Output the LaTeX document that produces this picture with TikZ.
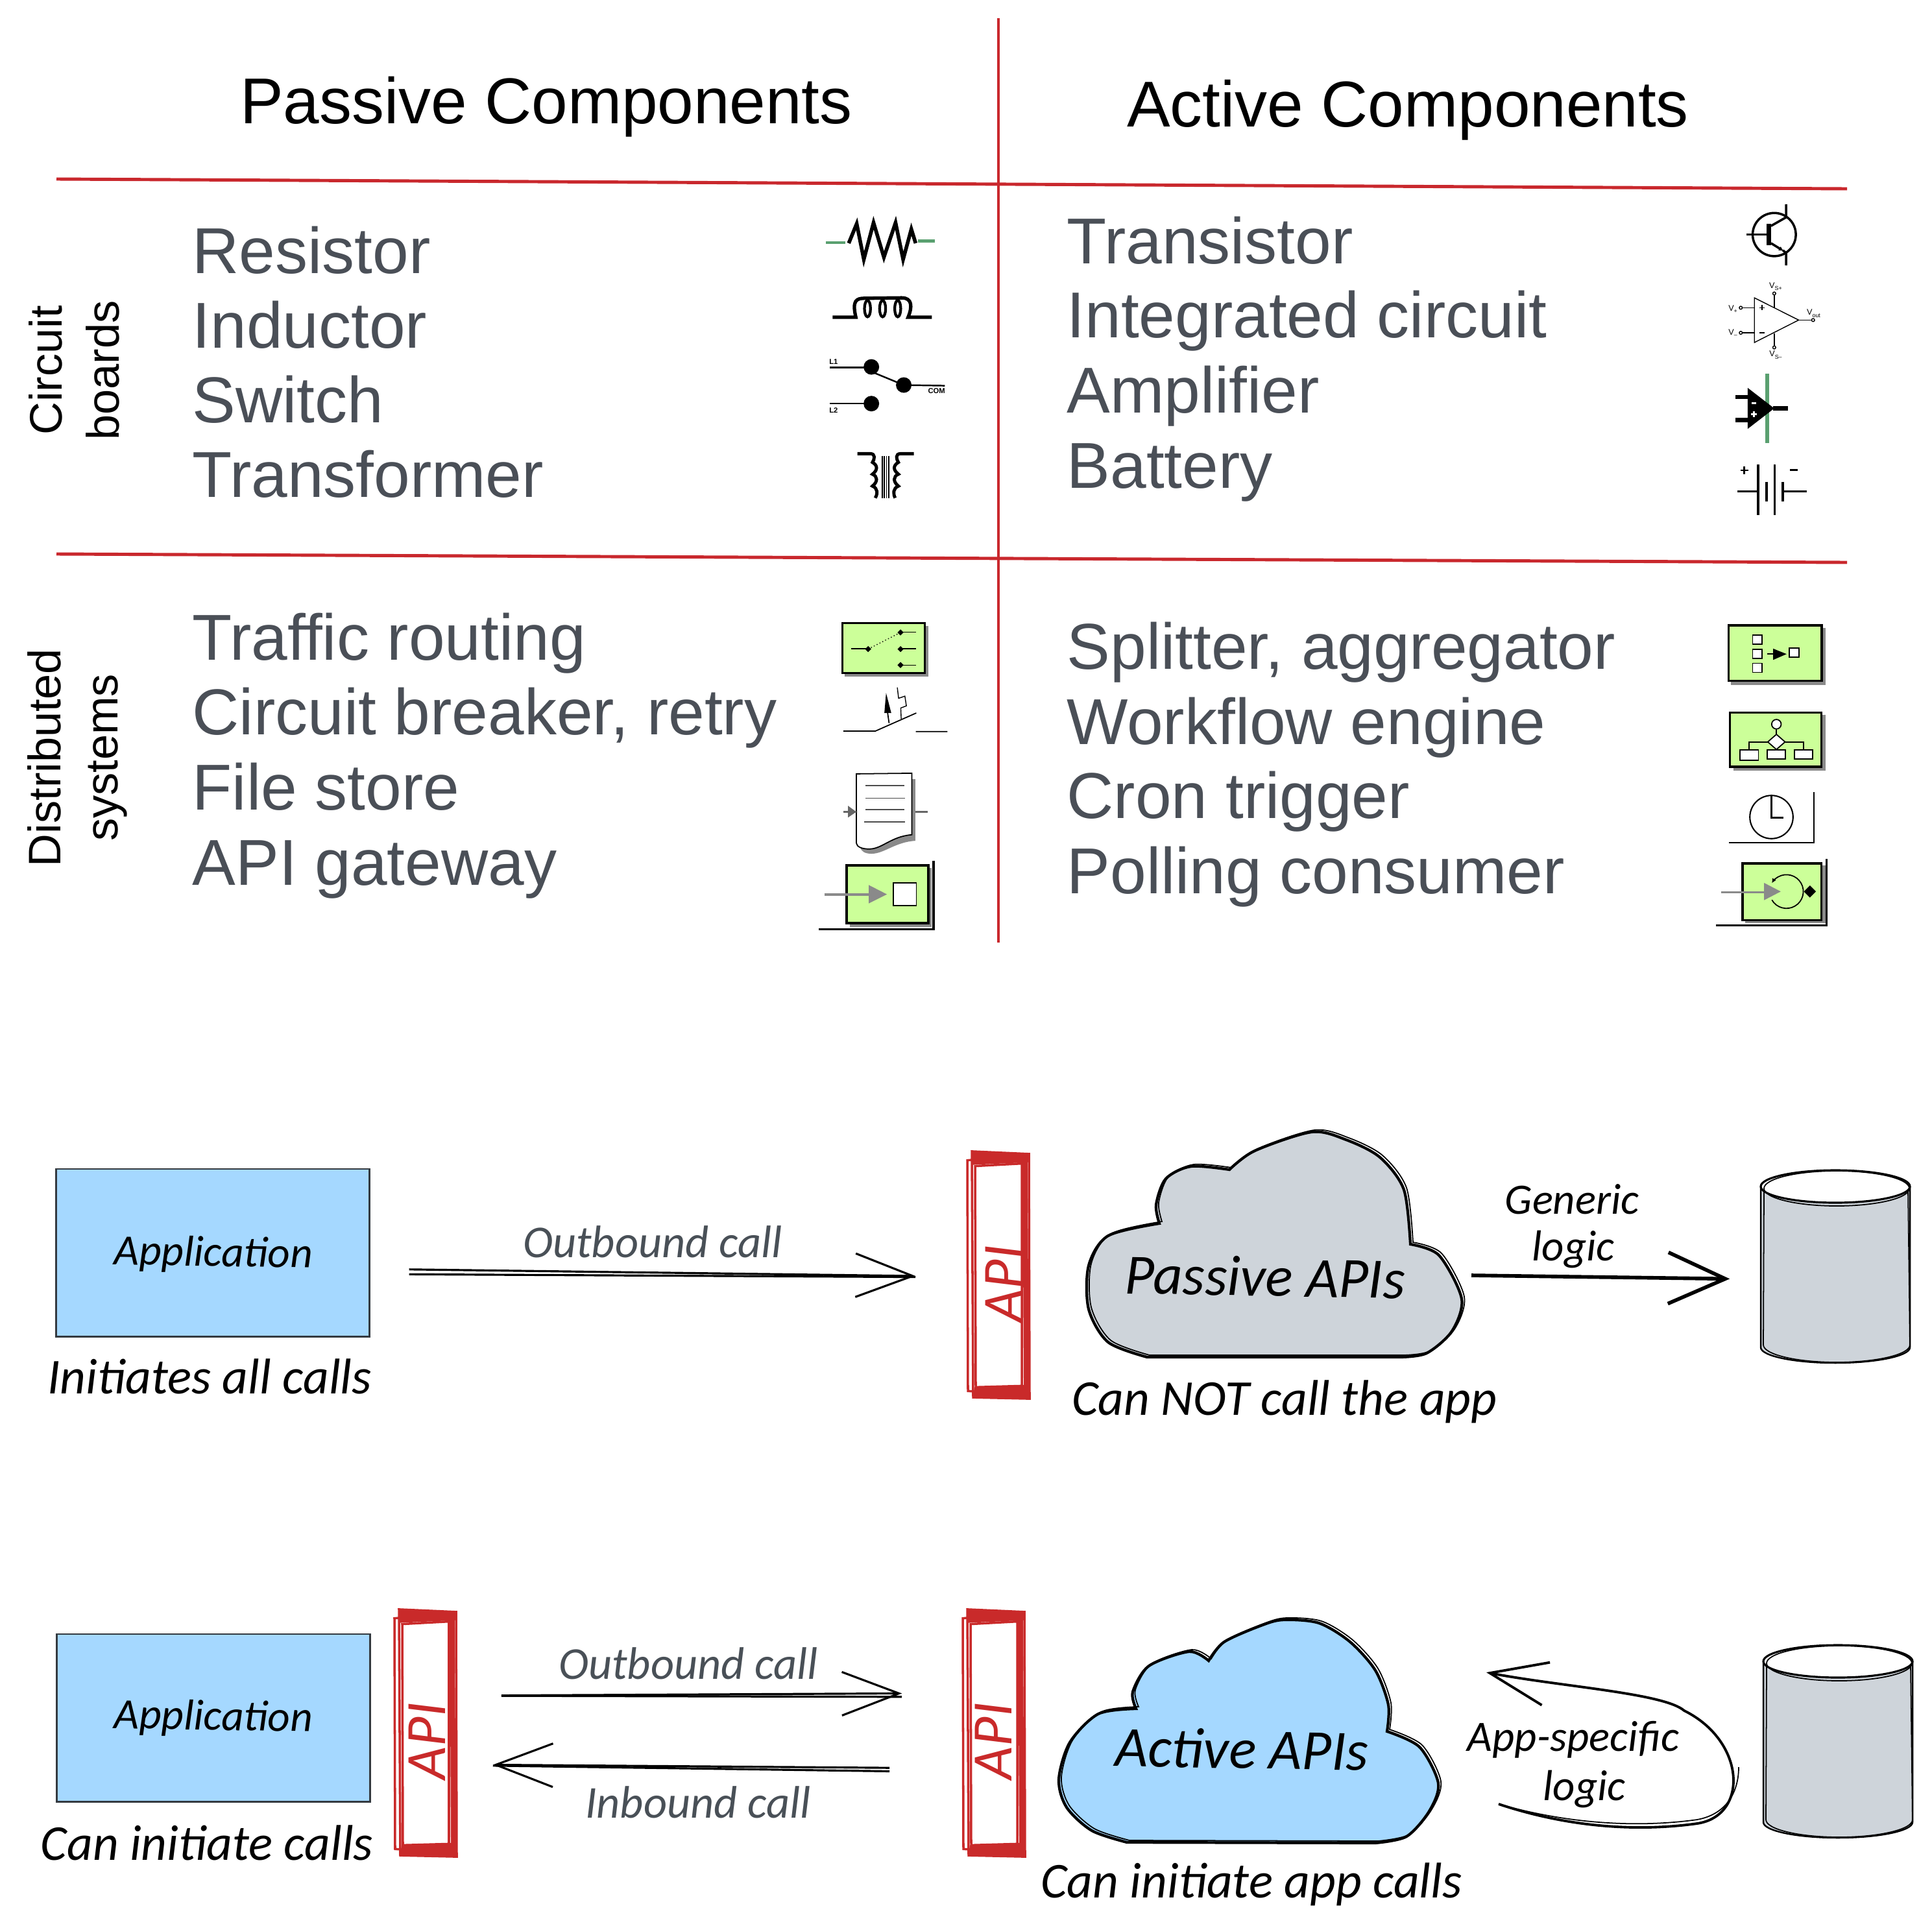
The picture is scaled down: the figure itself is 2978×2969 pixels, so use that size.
\documentclass[tikz,border=0pt]{standalone}
\usepackage{fontspec}
\usepackage{tikz}
\usetikzlibrary{positioning,arrows.meta,calc}
\setmainfont{Liberation Sans}
\newfontfamily\handfont{Carlito}

\definecolor{rulered}{HTML}{C9282D}
\definecolor{itemgrey}{HTML}{4A4F57}
\definecolor{appblue}{HTML}{A5D8FF}
\definecolor{boxedge}{HTML}{343A40}
\definecolor{cloudgrey}{HTML}{CED4DA}
\definecolor{calltext}{HTML}{495057}
\definecolor{apired}{HTML}{C92A2A}
\definecolor{eipgreen}{HTML}{CCFF99}
\definecolor{eipshadow}{HTML}{8A8A8A}
\definecolor{wiregreen}{HTML}{5AA070}

\tikzset{
  rule/.style={draw=rulered,line width=1.4pt},
  title/.style={font=\fontsize{28.4}{30}\selectfont,text=black,inner sep=0pt},
  itemtext/.style={anchor=base west,font=\fontsize{28.45}{30}\selectfont,text=itemgrey,inner sep=0pt},
  rowhead/.style={rotate=90,align=center,font=\fontsize{20}{25}\selectfont,text=black,inner sep=0pt},
  icontiny/.style={font=\fontsize{3.2}{3.2}\selectfont\bfseries,inner sep=0pt},
  iconlabel/.style={font=\fontsize{3.6}{3.6}\selectfont,inner sep=0pt},
  eipbox/.style={draw=black,fill=eipgreen},
  eipshade/.style={fill=eipshadow},
  hand/.style={font=\handfont\itshape\fontsize{19}{19}\selectfont,text=black,inner sep=0pt},
  caption/.style={font=\handfont\itshape\fontsize{22}{22}\selectfont,text=black,inner sep=0pt},
  handbig/.style={font=\handfont\itshape\fontsize{25}{25}\selectfont,text=black,inner sep=0pt},
  callhand/.style={font=\handfont\itshape\fontsize{20}{20}\selectfont,text=calltext,inner sep=0pt},
  apilabel/.style={rotate=90,font=\handfont\itshape\fontsize{25}{25}\selectfont,text=apired,inner sep=0pt},
  appbox/.style={draw=boxedge,fill=appblue,line width=.8pt,minimum width=4.82cm,minimum height=2.58cm,inner sep=0pt},
  apibar/.style={minimum width=.96cm,minimum height=3.8cm,inner sep=0pt},
  storeslot/.style={minimum width=2.3cm,minimum height=2.96cm,inner sep=0pt},
  callarrow/.style={line width=.9pt,-{Straight Barb[length=.88cm,width=.67cm]}},
  callline/.style={line width=.9pt},
  heavyarrow/.style={line width=1.6pt,-{Straight Barb[length=.88cm,width=.79cm]}},
  cloudline/.style={draw=black,line width=1.2pt},
  cloudghost/.style={draw=black,line width=.5pt,xshift=.04cm,yshift=.03cm},
}

\newcommand\apistrokes[1]{
  \begin{scope}[shift={(#1)},yscale=.985]
    \draw[apired,line width=1pt] (-47,-179) -- (42,-188) -- (46,189) -- (-46,182) -- cycle;
    \draw[apired,line width=1pt] (-40,-193) -- (48,-189) -- (49,194) -- (-38,192) -- cycle;
    \draw[apired,line width=1pt] (-35,-170) -- (37,-174) -- (37,174) -- (-34,176) -- cycle;
    \fill[apired] (-40,-193) -- (48,-189) -- (48,-176) -- (-38,-172) -- cycle;
    \fill[apired] (-36,176) -- (48,172) -- (49,194) -- (-38,192) -- cycle;
    \draw[apired,line width=2.2pt] (42,-188) -- (44,190);
  \end{scope}
}
\newcommand\storedrum[1]{
  \begin{scope}[shift={(#1)}]
    \fill[cloudgrey] (-115,-124) -- (-115,124) arc (180:0:115 and 24) -- (115,-124) -- cycle;
    \draw[line width=.7pt] (-115,-124) -- (-115,124) arc (180:0:115 and 24) -- (115,-124);
    \draw[line width=.5pt] (-110,-118) -- (-111,120) arc (180:0:113 and 27) -- (112,-118);
    \draw[fill=white,line width=.9pt] (0,-124) ellipse (115 and 25);
    \draw[line width=.5pt] (2,-121) ellipse (112 and 27);
  \end{scope}
}
\newcommand\cloudonepath{
  plot[smooth,tension=.5] coordinates {(1787,1886) (1782,1857) (1797,1817) (1836,1798) (1895,1803)}
  -- plot[smooth,tension=.5] coordinates {(1895,1803) (1934,1774) (2022,1745) (2075,1757) (2127,1784) (2164,1834) (2174,1918)}
  -- plot[smooth,tension=.5] coordinates {(2174,1918) (2218,1935) (2253,2002) (2238,2052) (2199,2086) (2159,2092)}
  -- (1768,2092)
  -- plot[smooth,tension=.5] coordinates {(1768,2092) (1708,2069) (1678,2018) (1678,1951) (1708,1905) (1787,1886)} -- cycle
}
\newcommand\cloudtwopath{
  plot[smooth,tension=.5] coordinates {(1751,2634) (1746,2608) (1771,2568) (1833,2546) (1863,2560)}
  -- plot[smooth,tension=.5] coordinates {(1863,2560) (1887,2531) (1946,2505) (1979,2497) (2033,2502) (2081,2531) (2120,2575) (2140,2628) (2138,2669)}
  -- plot[smooth,tension=.5] coordinates {(2138,2669) (2188,2693) (2217,2749) (2203,2792) (2168,2831) (2120,2841)}
  -- (1737,2840)
  -- plot[smooth,tension=.5] coordinates {(1737,2840) (1683,2822) (1644,2786) (1632,2743) (1649,2686) (1693,2642) (1751,2634)} -- cycle
}

\begin{document}
\begin{tikzpicture}[x=.01cm,y=-.01cm]
    \useasboundingbox (0,0) rectangle (2978,2969);

    \draw[rule] (1539,28) -- (1539,1453);
    \draw[rule] (87,276) -- (2847,291);
    \draw[rule] (87,854) -- (2847,867);

    \node (passivetitle) [title] at (842,165) {Passive Components};
    \node (activetitle) [title] at (2170,170) {Active Components};
    \node (circuitrow) [rowhead] at (114,571) {Circuit\\boards};
    \node (distrow) [rowhead] at (119,1168) {Distributed\\systems};

    \node (resistor) [itemtext] at (296,421) {Resistor};
    \node (inductor) [itemtext] at (296,536) {Inductor};
    \node (switch) [itemtext] at (296,651) {Switch};
    \node (transformer) [itemtext] at (296,766) {Transformer};
    \node (routing) [itemtext] at (296,1017) {Traffic routing};
    \node (breaker) [itemtext] at (296,1132) {Circuit breaker, retry};
    \node (filestore) [itemtext] at (296,1248) {File store};
    \node (gateway) [itemtext] at (296,1364) {API gateway};
    \node (transistor) [itemtext] at (1644,406) {Transistor};
    \node (integrated) [itemtext] at (1644,520) {Integrated circuit};
    \node (amplifier) [itemtext] at (1644,636) {Amplifier};
    \node (battery) [itemtext] at (1644,752) {Battery};
    \node (splitter) [itemtext] at (1644,1031) {Splitter, aggregator};
    \node (workflow) [itemtext] at (1644,1147) {Workflow engine};
    \node (cron) [itemtext] at (1644,1261) {Cron trigger};
    \node (polling) [itemtext] at (1644,1377) {Polling consumer};

    \begin{scope}[shift={(1230,320)},x=.00333cm,y=-.00333cm]
      \draw[wiregreen,line width=1.2pt] (130,163) -- (220,163);
      \draw[wiregreen,line width=1.2pt] (555,155) -- (635,155);
      \draw[line width=1.6pt,line join=miter] (235,165) -- (272,75) -- (305,240) -- (350,70) -- (398,230) -- (452,70) -- (487,240) -- (525,100) -- (545,165);
      \draw[line width=1.5pt] (160,508) -- (268,508) .. controls (250,430) and (270,420) .. (310,420) -- (480,418) .. controls (530,418) and (530,460) .. (510,508) -- (620,508);
      \foreach \cx in {322,392,462} \draw[line width=1.2pt] (\cx,468) ellipse (14 and 38);
      \draw[line width=.7pt] (148,740) -- (340,740);
      \draw[line width=.7pt] (340,760) -- (490,822) -- (680,825);
      \draw[line width=.7pt] (148,908) -- (340,908);
      \fill (340,738) circle (36) (490,822) circle (36) (340,908) circle (36);
      \node (switchlone) [icontiny] at (165,713) {L1};
      \node (switchltwo) [icontiny] at (165,938) {L2};
      \node (switchcom) [icontiny] at (642,850) {COM};
      \draw[line width=1.4pt] (275,1140) -- (335,1140) .. controls (360,1140) and (355,1165) .. (345,1180) .. controls (370,1195) and (370,1215) .. (345,1235) .. controls (370,1245) and (370,1270) .. (345,1290) .. controls (370,1300) and (370,1325) .. (358,1345);
      \draw[line width=1.4pt] (537,1140) -- (475,1140) .. controls (450,1140) and (455,1165) .. (465,1180) .. controls (440,1195) and (440,1215) .. (465,1235) .. controls (440,1245) and (440,1270) .. (465,1290) .. controls (440,1300) and (440,1325) .. (450,1345);
      \foreach \vx in {390,400,410,420} \draw[line width=.5pt] (\vx,1150) -- (\vx,1345);
    \end{scope}

    \begin{scope}[shift={(2620,310)},x=.00333cm,y=-.00333cm]
      \draw[line width=1pt] (345,155) circle (100);
      \draw[line width=1pt] (215,155) -- (310,155);
      \draw[line width=2.2pt] (320,105) -- (320,205);
      \draw[line width=1pt] (330,115) -- (400,75) -- (400,15);
      \draw[line width=1pt,-{Latex[length=.08cm,width=.07cm]}] (330,195) -- (390,232);
      \draw[line width=1pt] (385,228) -- (400,240) -- (400,298);
      \draw[line width=.4pt] (253,448) -- (458,551) -- (253,655) -- cycle;
      \draw[line width=.4pt] (197,494) -- (253,494) (197,610) -- (253,610) (345,436) -- (345,492) (345,612) -- (345,670) (458,551) -- (518,551);
      \draw[line width=.4pt] (190,494) circle (7) (190,610) circle (7) (345,428) circle (7) (345,678) circle (7) (525,551) circle (7);
      \draw[line width=.5pt] (288,482) -- (288,506) (276,494) -- (300,494) (276,610) -- (300,610);
      \node (vplus) [iconlabel] at (156,500) {V\textsubscript{+}};
      \node (vminus) [iconlabel] at (156,612) {V\textsubscript{–}};
      \node (vsplus) [iconlabel] at (354,396) {V\textsubscript{S+}};
      \node (vsminus) [iconlabel] at (354,712) {V\textsubscript{S–}};
      \node (vout) [iconlabel] at (530,520) {V\textsubscript{out}};
      \draw[wiregreen,line width=1.9pt] (312,800) -- (312,1120);
      \fill (222,865) -- (222,1055) -- (345,960) -- cycle;
      \draw[line width=1.9pt] (165,907) -- (222,907) (165,1015) -- (222,1015) (340,960) -- (410,960);
      \draw[white,line width=.9pt] (240,936) -- (262,936) (238,988) -- (264,988) (251,975) -- (251,1001);
      \draw[line width=.8pt] (175,1345) -- (265,1345) (390,1345) -- (495,1345);
      \draw[line width=1pt] (270,1220) -- (270,1455) (347,1220) -- (347,1455);
      \draw[line width=1.1pt] (310,1300) -- (310,1390) (384,1300) -- (384,1390);
      \draw[line width=.8pt] (188,1247) -- (224,1247) (206,1229) -- (206,1265) (418,1245) -- (454,1245);
    \end{scope}

    \begin{scope}[shift={(1240,940)},x=.00333cm,y=-.00333cm]
      \fill[eipshade] (185,75) rectangle (575,308);
      \draw[eipbox,line width=.8pt] (175,62) rectangle (558,293);
      \draw[line width=.4pt] (215,180) -- (295,180) (445,103) -- (518,103) (445,180) -- (518,180) (445,256) -- (518,256);
      \draw[line width=.4pt,densely dotted] (295,182) -- (445,105);
      \fill (295,168) -- (309,182) -- (295,196) -- (281,182) -- cycle;
      \fill (445,91) -- (459,105) -- (445,119) -- (431,105) -- cycle;
      \fill (445,168) -- (459,182) -- (445,196) -- (431,182) -- cycle;
      \fill (445,242) -- (459,256) -- (445,270) -- (431,256) -- cycle;
      \draw[line width=.5pt] (180,562) -- (328,562) -- (518,478) (516,564) -- (662,564);
      \draw[line width=.5pt] (392,525) -- (384,470);
      \fill (378,385) -- (402,478) -- (370,478) -- cycle;
      \draw[line width=.4pt] (448,505) -- (446,455) -- (472,445) -- (465,400) -- (436,410) -- (430,360);
      \fill[eipshadow] (258,785) rectangle (515,1070);
      \fill[eipshadow] (258,1070) -- (515,1070) .. controls (420,1075) and (370,1130) .. (310,1130) .. controls (280,1130) and (262,1118) .. (258,1100) -- cycle;
      \draw[fill=white,line width=.5pt] (240,760) -- (497,757) -- (497,1042) .. controls (400,1050) and (360,1108) .. (300,1108) .. controls (270,1108) and (242,1100) .. (240,1080) -- cycle;
      \draw[line width=.5pt,black!70] (283,815) -- (462,815) (283,873) -- (466,873) (283,925) -- (462,925) (277,983) -- (466,983);
      \draw[line width=.8pt,black!60] (180,936) -- (240,936) (515,936) -- (570,936);
      \fill[black!60] (202,908) -- (240,936) -- (202,962) -- cycle;
      \fill[eipshade] (210,1195) rectangle (590,1470);
      \draw[line width=1.1pt] (598,1162) -- (598,1480) -- (65,1480);
      \draw[eipbox,line width=1.1pt] (195,1183) rectangle (575,1452);
      \draw[eipshadow,line width=1.1pt] (92,1320) -- (300,1320);
      \fill[eipshadow] (298,1275) -- (382,1318) -- (298,1360) -- cycle;
      \draw[fill=white,line width=.5pt] (412,1265) rectangle (518,1370);
    \end{scope}

    \begin{scope}[shift={(2630,940)},x=.00333cm,y=-.00333cm]
      \fill[eipshade] (115,85) rectangle (552,350);
      \draw[eipbox,line width=.9pt] (103,72) rectangle (535,330);
      \draw[fill=white,line width=.5pt] (215,118) rectangle (258,160) (215,183) rectangle (258,225) (215,248) rectangle (258,290) (385,178) rectangle (430,220);
      \draw[line width=.5pt] (282,205) -- (310,205);
      \fill (310,180) -- (372,205) -- (310,232) -- cycle;
      \fill[eipshade] (125,488) rectangle (552,745);
      \draw[eipbox,line width=.9pt] (110,475) rectangle (533,727);
      \draw[line width=.5pt] (325,552) -- (325,578) (285,612) -- (198,612) -- (198,650) (365,612) -- (450,612) -- (450,650);
      \draw[fill=white,line width=.5pt] (325,530) circle (22);
      \draw[fill=white,line width=.5pt] (325,577) -- (365,612) -- (325,647) -- (285,612) -- cycle;
      \draw[fill=white,line width=.5pt] (157,650) rectangle (242,697) (283,650) rectangle (367,692) (408,650) rectangle (492,692);
      \draw[line width=.6pt] (302,960) circle (100);
      \draw[line width=.6pt] (302,862) -- (302,963) -- (358,963);
      \draw[line width=.6pt] (105,1080) -- (500,1080) -- (500,845);
      \fill[eipshade] (180,1185) rectangle (552,1450);
      \draw[line width=.9pt] (558,1155) -- (558,1462) -- (45,1462);
      \draw[eipbox,line width=.9pt] (168,1175) rectangle (533,1437);
      \draw[eipshadow,line width=.9pt] (70,1308) -- (268,1308);
      \fill[eipshadow] (268,1265) -- (345,1305) -- (268,1345) -- cycle;
      \draw[line width=.5pt,-{Latex[length=.07cm,width=.07cm]}] (304,1344) arc (150:-150:78);
      \fill (480,1277) -- (508,1305) -- (480,1333) -- (452,1305) -- cycle;
    \end{scope}

    \node (appone) [appbox] at (328,1931) {};
    \node (applabelone) [hand,rotate=-1] at (329,1934) {Application};
    \node (initiates) [caption] at (323,2122) {Initiates all calls};
    \node (apione) [apibar] at (1538,1965) {};
    \apistrokes{apione}
    \node (apilabelone) [apilabel] at (1547,1979) {API};
    \draw[callarrow,shorten <=.6cm,shorten >=.78cm] ([yshift=-.25cm]appone.east) -- ([yshift=-.03cm]apione.west);
    \draw[callline,shorten <=.6cm,shorten >=.78cm] ([yshift=-.33cm]appone.east) -- ([yshift=-.04cm]apione.west);
    \node (outboundone) [callhand] at (1006,1914) {Outbound call};

    \fill[cloudgrey] \cloudonepath;
    \draw[cloudline] \cloudonepath;
    \draw[cloudghost] \cloudonepath;
    \node (passiveapis) [handbig,rotate=-1] at (1950,1968) {Passive APIs};
    \node (notcall) [caption] at (1980,2161) {Can NOT call the app};
    \coordinate (cloudoneedge) at (2268,1966);
    \node (storeone) [storeslot] at (2829,1953) {};
    \storedrum{storeone}
    \draw[heavyarrow,shorten >=.47cm] (cloudoneedge) -- ([yshift=-.19cm]storeone.west);
    \node (generic) [hand] at (2423,1849) {Generic};
    \node (logicone) [hand] at (2425,1926) {logic};

    \node (apptwo) [appbox] at (329,2648) {};
    \node (applabeltwo) [hand,rotate=-1] at (329,2649) {Application};
    \node (caninitiate) [caption] at (319,2841) {Can initiate calls};
    \node (apitwo) [apibar] at (655,2671) {};
    \apistrokes{apitwo}
    \node (apilabeltwo) [apilabel] at (658,2684) {API};
    \node (apithree) [apibar] at (1531,2671) {};
    \apistrokes{apithree}
    \node (apilabelthree) [apilabel] at (1531,2684) {API};
    \draw[callarrow,shorten <=.69cm,shorten >=.92cm] ([yshift=.57cm]apitwo.east) -- ([yshift=.61cm]apithree.west);
    \draw[callline,shorten <=.69cm,shorten >=.92cm] ([yshift=.57cm]apitwo.east) -- ([yshift=.55cm]apithree.west);
    \node (outboundtwo) [callhand] at (1061,2564) {Outbound call};
    \draw[callarrow,shorten <=1.11cm,shorten >=.56cm] ([yshift=-.55cm]apithree.west) -- ([yshift=-.49cm]apitwo.east);
    \draw[callline,shorten <=1.11cm,shorten >=.56cm] ([yshift=-.61cm]apithree.west) -- ([yshift=-.5cm]apitwo.east);
    \node (inbound) [callhand] at (1076,2778) {Inbound call};

    \fill[appblue] \cloudtwopath;
    \draw[cloudline] \cloudtwopath;
    \draw[cloudghost] \cloudtwopath;
    \node (activeapis) [handbig,rotate=-1] at (1914,2696) {Active APIs};
    \node (canapp) [caption] at (1929,2905) {Can initiate app calls};
    \node (storetwo) [storeslot] at (2833,2685) {};
    \storedrum{storetwo}
    \coordinate (logicfrom) at (2310,2781);
    \coordinate (logictip) at (2291,2578);
    \draw[callarrow,line width=1.1pt] (logicfrom) .. controls (2436,2823) and (2545,2821) .. (2616,2811) .. controls (2696,2799) and (2691,2684) .. (2596,2637) .. controls (2565,2610) and (2406,2600) .. (logictip);
    \draw[callline,line width=.5pt,yshift=.06cm] (logicfrom) .. controls (2436,2823) and (2545,2821) .. (2616,2811) .. controls (2660,2803) and (2680,2770) .. (2680,2730);
    \node (appspecific) [hand] at (2425,2682) {App-specific};
    \node (logictwo) [hand] at (2442,2758) {logic};
\end{tikzpicture}
\end{document}
